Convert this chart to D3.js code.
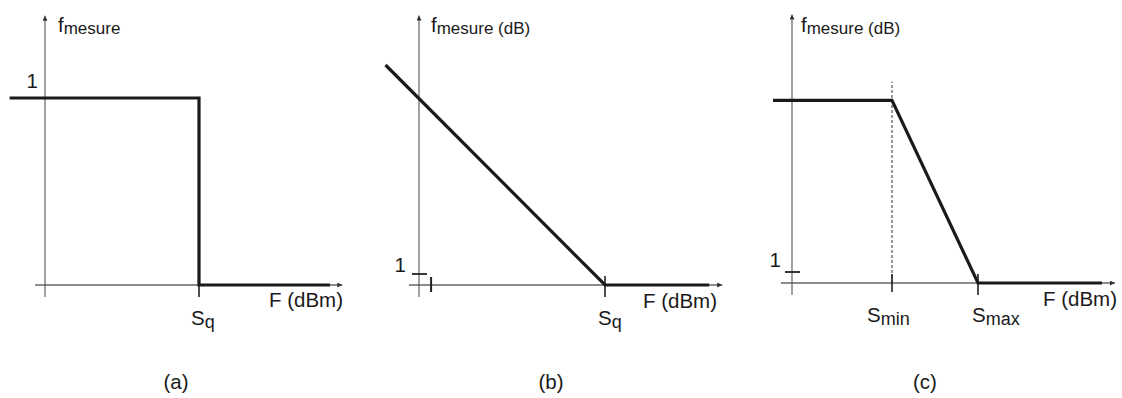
<!DOCTYPE html>
<html>
<head>
<meta charset="utf-8">
<script src="https://cdn.jsdelivr.net/npm/d3@7"></script>
<style>
  body { margin: 0; background: #fff; }
  text { font-family: "Liberation Sans", Arial, sans-serif; fill: #1a1a1a; }
</style>
</head>
<body>
<svg id="fig" width="1122" height="398"></svg>
<script>
// curve of each panel (F in arbitrary dBm units, f_mesure in its own units)
var aX = [-2.3, 10, 10, 18.5];
var aY = [1, 1, 0, 0];
var bX = [-1.8, 10, 15.6];
var bY = [20, 0, 0];
var cX = [-1.9, 10, 18.6, 31];
var cY = [16.6, 16.6, 0, 0];

// ticks on the F axis and names under them
var aTicks = [10];
var aTickNames = [["S", "q"]];
var bTicks = [10];
var bTickNames = [["S", "q"]];
var cTicks = [10, 18.6];
var cTickNames = [["S", "min"], ["S", "max"]];

var captions = ["(a)", "(b)", "(c)"];

var svg = d3.select("#fig");

svg.append("defs").append("marker")
    .attr("id", "arrow")
    .attr("viewBox", "0 0 10 10")
    .attr("refX", 10).attr("refY", 5)
    .attr("markerWidth", 7).attr("markerHeight", 5)
    .attr("markerUnits", "userSpaceOnUse")
    .attr("orient", "auto")
    .append("path")
    .attr("d", "M0,0 L10,5 L0,10 z")
    .attr("fill", "#333");

var panels = [
  { xs: aX, ys: aY, ticks: aTicks, names: aTickNames, dB: false,
    x: d3.scaleLinear().domain([0, 10]).range([45, 199]),
    y: d3.scaleLinear().domain([0, 1]).range([285, 98]),
    xExt: [-0.65, 19.3], yExt: [-0.064, 1.44],
    oneTick: null, oneDx: -7, oneDy: -10,
    nameDx: [-8], nameDy: 40, fEnd: 343, fBase: 307, fDx: 13, cap: 176 },
  { xs: bX, ys: bY, ticks: bTicks, names: bTickNames, dB: true,
    x: d3.scaleLinear().domain([0, 10]).range([419, 605]),
    y: d3.scaleLinear().domain([0, 20]).range([285, 65]),
    xExt: [-0.54, 16.3], yExt: [-1.1, 24.5],
    oneTick: [-0.38, 0.43], oneDx: -13, oneDy: -2, small: 0.65,
    nameDx: [-7], nameDy: 40, fEnd: 717, fBase: 308, fDx: 12, cap: 551 },
  { xs: cX, ys: cY, ticks: cTicks, names: cTickNames, dB: true,
    x: d3.scaleLinear().domain([0, 10]).range([792, 892]),
    y: d3.scaleLinear().domain([0, 20]).range([283, 63]),
    xExt: [-1.1, 32.3], yExt: [-1.1, 24.4],
    oneTick: [-0.7, 0.8], oneDx: -11, oneDy: -5, dash: [10, 18.3],
    nameDx: [-25, -6], nameDy: 39, fEnd: 1117, fBase: 306, fDx: 9, cap: 925 }
];

panels.forEach(function(p, i) {
  var g = svg.append("g");
  var x = p.x, y = p.y;

  // axes with arrow heads
  g.append("line")
      .attr("x1", x(p.xExt[0])).attr("x2", x(p.xExt[1]))
      .attr("y1", y(0)).attr("y2", y(0))
      .attr("stroke", "#666").attr("stroke-width", 1.3)
      .attr("marker-end", "url(#arrow)");
  g.append("line")
      .attr("x1", x(0)).attr("x2", x(0))
      .attr("y1", y(p.yExt[0])).attr("y2", y(p.yExt[1]))
      .attr("stroke", "#555").attr("stroke-width", 1.1)
      .attr("marker-end", "url(#arrow)");

  // dashed guide at Smin
  if (p.dash) {
    g.append("line")
        .attr("x1", x(p.dash[0])).attr("x2", x(p.dash[0]))
        .attr("y1", y(0)).attr("y2", y(p.dash[1]))
        .attr("stroke", "#333").attr("stroke-width", 1)
        .attr("stroke-dasharray", "3,2");
  }

  // ticks on the F axis
  p.ticks.forEach(function(t, j) {
    g.append("line")
        .attr("x1", x(t)).attr("x2", x(t))
        .attr("y1", y(0) - 9).attr("y2", y(0) + (j == 0 && p.dash ? 9 : 12))
        .attr("stroke", "#222").attr("stroke-width", 1.6);
    var lab = g.append("text")
        .attr("x", x(t) + p.nameDx[j]).attr("y", y(0) + p.nameDy)
        .attr("font-size", "20.5px");
    lab.append("tspan").text(p.names[j][0]);
    lab.append("tspan").attr("font-size", "18px").attr("dy", 3).text(p.names[j][1]);
  });

  if (p.small != null) {
    g.append("line")
        .attr("x1", x(p.small)).attr("x2", x(p.small))
        .attr("y1", y(0) - 8).attr("y2", y(0) + 7)
        .attr("stroke", "#222").attr("stroke-width", 2);
  }

  // tick for level 1
  var yOne = y(1);
  if (p.oneTick) {
    g.append("line")
        .attr("x1", x(p.oneTick[0])).attr("x2", x(p.oneTick[1]))
        .attr("y1", yOne).attr("y2", yOne)
        .attr("stroke", "#222").attr("stroke-width", 1.8);
  }
  g.append("text")
      .attr("x", x(0) + p.oneDx).attr("y", yOne + p.oneDy)
      .attr("text-anchor", "end").attr("font-size", "20.5px")
      .text("1");

  // curve
  var pts = p.xs.map(function(v, k) { return [v, p.ys[k]]; });
  g.append("path")
      .attr("d", d3.line().x(function(d) { return x(d[0]); }).y(function(d) { return y(d[1]); })(pts))
      .attr("fill", "none")
      .attr("stroke", "#1a1a1a").attr("stroke-width", 3.2)
      .attr("stroke-linejoin", "miter");

  // axis names
  g.append("text")
      .attr("x", p.fEnd).attr("y", p.fBase)
      .attr("text-anchor", "end").attr("font-size", "20.5px")
      .text("F (dBm)");
  var fl = g.append("text")
      .attr("x", x(0) + p.fDx).attr("y", 32)
      .attr("font-size", "20.5px");
  fl.append("tspan").text("f");
  fl.append("tspan").attr("font-size", "17px").attr("dy", 2)
      .text(p.dB ? "mesure (dB)" : "mesure");

  svg.append("text")
      .attr("x", p.cap).attr("y", 389)
      .attr("text-anchor", "middle").attr("font-size", "20.5px")
      .text(captions[i]);
});
</script>
</body>
</html>
